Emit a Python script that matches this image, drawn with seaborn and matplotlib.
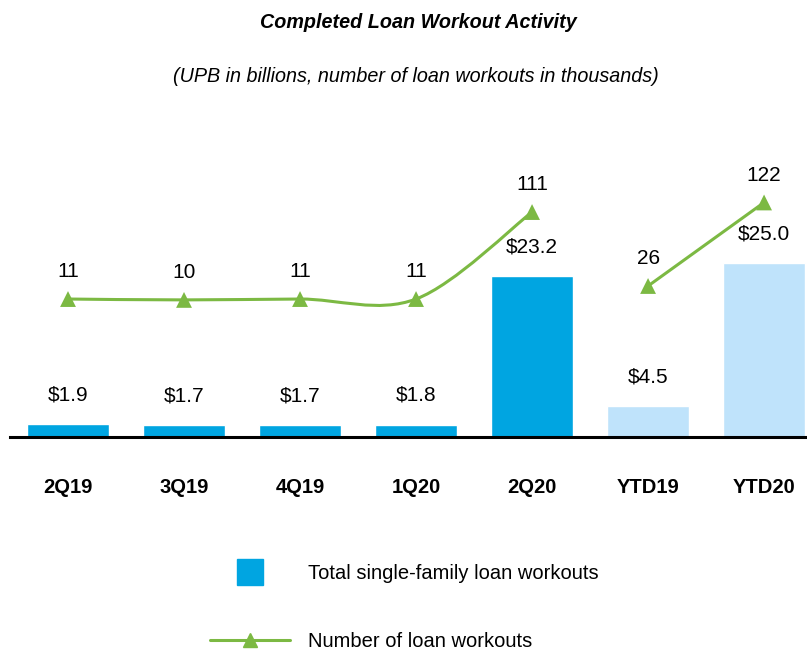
import numpy as np
import matplotlib
matplotlib.use('Agg')
import matplotlib.pyplot as plt
from matplotlib.path import Path
from matplotlib.patches import PathPatch
from matplotlib.lines import Line2D
import seaborn as sns

periods = ['2Q19', '3Q19', '4Q19', '1Q20', '2Q20', 'YTD19', 'YTD20']
period_type = ['Quarter', 'Quarter', 'Quarter', 'Quarter', 'Quarter', 'YTD', 'YTD']
upb = [1.9, 1.7, 1.7, 1.8, 23.2, 4.5, 25.0]
workouts = [11, 10, 11, 11, 111, 26, 122]

BLUE = '#00A5E1'
LIGHT = '#BFE3FB'
GREEN = '#7CB943'

sns.set_style('white')
plt.rcParams['font.family'] = ['Liberation Sans', 'DejaVu Sans']

fig = plt.figure(figsize=(8.07, 6.52), dpi=100)
ax = fig.add_axes([10 / 807, 215 / 652, 797 / 807, 287 / 652])

sns.barplot(x=periods, y=upb, hue=period_type, palette={'Quarter': BLUE, 'YTD': LIGHT},
            dodge=False, width=0.71, legend=False, saturation=1, ax=ax)
ax.set_xlim(-0.5, 6.37)
ax.set_ylim(0, 41.35)

for i, v in enumerate(upb):
    ax.annotate(f'${v:.1f}', (i, v), xytext=(0, 21), textcoords='offset points',
                ha='center', va='center', fontsize=15, color='black')

ax2 = ax.twinx()
ax2.set_ylim(-147.6, 182.3)
xpos = ax.get_xticks()


def smooth_path(xs, ys):
    pts = np.column_stack([xs, ys]).astype(float)
    n = len(pts)
    verts = [pts[0]]
    codes = [Path.MOVETO]
    for i in range(n - 1):
        p0 = pts[i - 1] if i > 0 else pts[i]
        p1, p2 = pts[i], pts[i + 1]
        p3 = pts[i + 2] if i + 2 < n else pts[i + 1]
        verts += [p1 + (p2 - p0) / 6, p2 - (p3 - p1) / 6, p2]
        codes += [Path.CURVE4] * 3
    return Path(verts, codes)


for grp in ['Quarter', 'YTD']:
    idx = [i for i, g in enumerate(period_type) if g == grp]
    path = smooth_path([xpos[i] for i in idx], [workouts[i] for i in idx])
    ax2.add_patch(PathPatch(path, facecolor='none', edgecolor=GREEN, lw=2.2))

sns.scatterplot(x=periods, y=workouts, marker='^', s=130, color=GREEN,
                edgecolor='none', ax=ax2, zorder=5, legend=False)
for i, v in enumerate(workouts):
    ax2.annotate(str(v), (xpos[i], v), xytext=(0, 19.5), textcoords='offset points',
                 ha='center', va='center', fontsize=15, color='black')

for a in (ax, ax2):
    for s in ['top', 'right', 'left']:
        a.spines[s].set_visible(False)
    a.set_yticks([])
    a.set_ylabel('')
ax2.spines['bottom'].set_visible(False)
ax.spines['bottom'].set_linewidth(2.2)
ax.spines['bottom'].set_color('black')
ax.set_xlim(-0.5, 6.37)
ax.tick_params(axis='x', direction='out', length=9.5, width=0.9, color='black',
               pad=20, labelsize=14.5, labelcolor='black')
for lbl in ax.get_xticklabels():
    lbl.set_fontweight('bold')

fig.text(0.518, 0.966, 'Completed Loan Workout Activity', ha='center', va='center',
         fontsize=14.2, fontweight='bold', fontstyle='italic', color='black')
fig.text(0.515, 0.883, '(UPB in billions, number of loan workouts in thousands)',
         ha='center', va='center', fontsize=14.2, fontstyle='italic', color='black')

handles = [
    Line2D([], [], linestyle='none', marker='s', markersize=19, color=BLUE),
    Line2D([], [], color=GREEN, lw=2.2, marker='^', markersize=10),
]
fig.legend(handles, ['Total single-family loan workouts', 'Number of loan workouts'],
           loc='center left', bbox_to_anchor=(210 / 807, 1 - 607.5 / 652), frameon=False,
           fontsize=14.5, handlelength=3.95, handletextpad=0.9, labelspacing=2.45,
           borderpad=0, borderaxespad=0, labelcolor='black')

fig.savefig('out.png', dpi=100)
